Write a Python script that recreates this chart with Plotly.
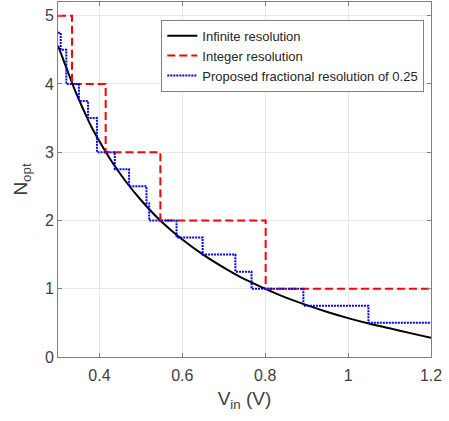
import plotly.graph_objects as go

# Infinite resolution curve
v_curve = [0.30, 0.32, 0.34, 0.36, 0.38, 0.40, 0.43, 0.46, 0.50, 0.55, 0.60, 0.65,
           0.70, 0.75, 0.80, 0.85, 0.90, 0.95, 1.00, 1.05, 1.10, 1.15, 1.20]
n_curve = [4.56, 4.24, 3.92, 3.64, 3.38, 3.16, 2.86, 2.60, 2.30, 1.98, 1.72, 1.50,
           1.31, 1.14, 1.00, 0.87, 0.76, 0.66, 0.57, 0.49, 0.42, 0.35, 0.28]

# Integer resolution steps
v_int = [0.30, 0.3338, 0.415, 0.547, 0.801, 1.20]
n_int = [5, 4, 3, 2, 1, 1]

# Proposed fractional resolution of 0.25 steps
v_frac = [0.30, 0.3065, 0.320, 0.3505, 0.3725, 0.394, 0.437, 0.4715, 0.5135, 0.520,
          0.586, 0.649, 0.728, 0.767, 0.892, 1.049, 1.20]
n_frac = [4.75, 4.5, 4.0, 3.75, 3.5, 3.0, 2.75, 2.5, 2.25, 2.0,
          1.75, 1.5, 1.25, 1.0, 0.75, 0.5, 0.5]

x_ticks = [0.4, 0.6, 0.8, 1.0, 1.2]
x_ticklabels = ["0.4", "0.6", "0.8", "1", "1.2"]
y_ticks = [0, 1, 2, 3, 4, 5]

fig = go.Figure()
fig.add_trace(go.Scatter(x=v_curve, y=n_curve, mode="lines", name="Infinite resolution",
                         line=dict(color="black", width=2, shape="spline")))
fig.add_trace(go.Scatter(x=v_int, y=n_int, mode="lines", name="Integer resolution",
                         line=dict(color="#ff0000", width=2, dash="8px,4px", shape="hv")))
fig.add_trace(go.Scatter(x=v_frac, y=n_frac, mode="lines",
                         name="Proposed fractional resolution of 0.25",
                         line=dict(color="#0000ff", width=2, dash="2px,1px", shape="hv")))

axis_common = dict(showline=True, linecolor="#808080", linewidth=1, mirror="ticks",
                   ticks="inside", ticklen=4, tickcolor="#808080", automargin=False,
                   showgrid=True, gridcolor="#e8e8e8", gridwidth=1, zeroline=False,
                   tickfont=dict(family="Liberation Sans, Arial", size=16, color="#404040"))

fig.update_xaxes(range=[0.3, 1.2], tickvals=x_ticks, ticktext=x_ticklabels,
                 ticklabelstandoff=4,
                 title=dict(text="V<sub>in</sub> (V)", standoff=8,
                            font=dict(family="Liberation Sans, Arial", size=19, color="#404040")),
                 **axis_common)
fig.update_yaxes(range=[0, 5.2], tickvals=y_ticks,
                 ticklabelstandoff=0,
                 title=dict(text="N<sub>opt</sub>", standoff=12,
                            font=dict(family="Liberation Sans, Arial", size=19, color="#404040")),
                 **axis_common)

fig.update_layout(
    width=449, height=421, autosize=False,
    margin=dict(l=58, r=18, t=2, b=64, autoexpand=False),
    plot_bgcolor="white", paper_bgcolor="white",
    showlegend=True,
    legend=dict(x=0.982, y=0.95, xanchor="right", yanchor="top",
                bgcolor="white", bordercolor="#808080", borderwidth=1,
                font=dict(family="Liberation Sans, Arial", size=13, color="#262626"),
                tracegroupgap=0, itemwidth=30),
)

fig.write_html("out.html", config={"displayModeBar": False},
               post_script="document.body.style.margin='0';document.body.style.overflow='hidden';")
